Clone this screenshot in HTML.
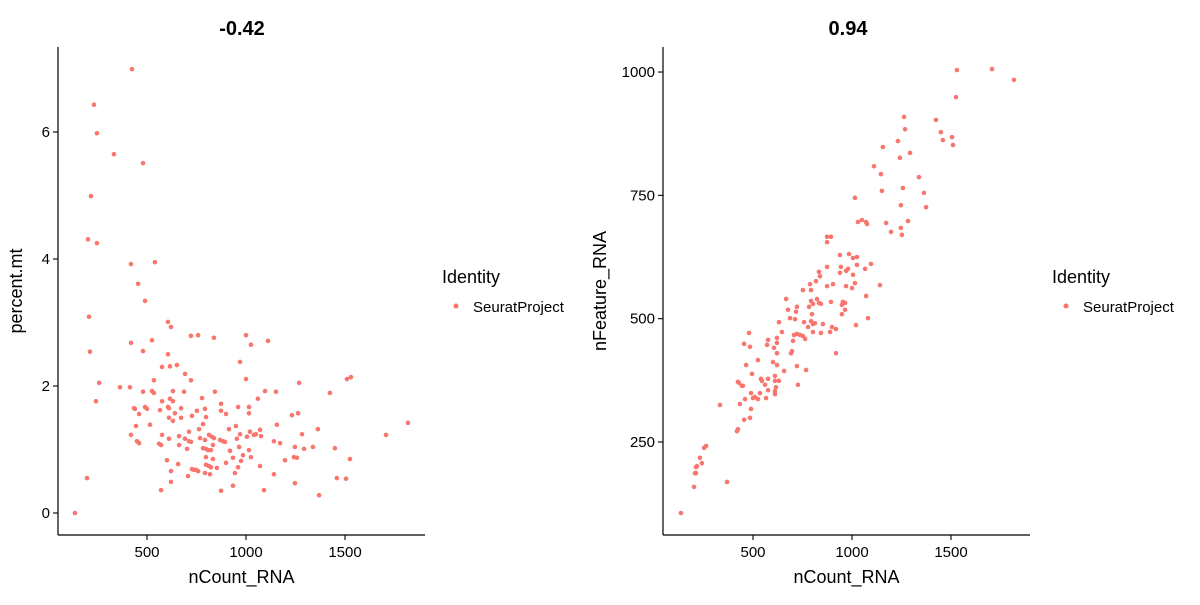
<!DOCTYPE html>
<html><head><meta charset="utf-8"><style>
body{margin:0;background:#fff;}
svg text{font-family:"Liberation Sans",Arial,sans-serif;}
</style></head><body>
<svg id="chart" width="1200" height="600" xmlns="http://www.w3.org/2000/svg"></svg>
<script>
// Left panel: nCount_RNA vs percent.mt
const leftX = [424,232,247,333,480,217,202,247,419,540,455,490,207,606,621,722,758,838,1000,1025,419,525,212,480,606,970,576,616,651,692,722,1000,535,258,364,414,480,525,535,631,687,843,242,576,616,631,778,874,434,439,490,500,606,611,566,672,793,874,960,1015,460,641,752,899,1015,611,672,727,798,631,444,515,783,763,949,914,712,970,1020,419,576,662,813,828,838,1005,1040,768,611,692,712,722,793,869,884,894,954,449,460,561,571,662,833,965,783,798,808,823,702,919,1015,985,798,833,934,975,1025,601,899,960,657,798,813,823,853,727,737,747,758,621,793,818,944,707,197,621,934,571,874,136,1111,1268,1510,1530,1096,1151,1424,1060,1232,1263,1818,1707,1156,1071,1050,1076,1283,1363,1141,1172,1247,1293,1338,1449,1071,1197,1242,1257,1525,1141,1247,1459,1505,1091,1369];
const leftY = [6.99,6.43,5.98,5.65,5.51,4.99,4.31,4.25,3.92,3.95,3.61,3.34,3.09,3.01,2.93,2.79,2.80,2.76,2.80,2.65,2.68,2.72,2.54,2.55,2.50,2.38,2.30,2.31,2.33,2.19,2.09,2.11,2.09,2.05,1.98,1.98,1.91,1.92,1.89,1.92,1.91,1.91,1.76,1.76,1.80,1.76,1.81,1.72,1.65,1.64,1.67,1.64,1.67,1.65,1.62,1.65,1.64,1.61,1.67,1.67,1.56,1.57,1.61,1.56,1.57,1.50,1.50,1.53,1.51,1.45,1.37,1.39,1.40,1.32,1.37,1.32,1.28,1.24,1.28,1.23,1.23,1.21,1.23,1.20,1.18,1.20,1.23,1.18,1.17,1.17,1.13,1.12,1.15,1.15,1.13,1.12,1.17,1.13,1.10,1.09,1.07,1.07,1.07,1.04,1.02,1.01,0.99,0.99,1.01,0.98,0.99,0.91,0.88,0.85,0.87,0.82,0.88,0.83,0.79,0.72,0.77,0.76,0.74,0.72,0.71,0.69,0.68,0.68,0.66,0.66,0.63,0.61,0.63,0.58,0.55,0.49,0.43,0.36,0.35,0,2.71,2.05,2.11,2.14,1.92,1.91,1.89,1.80,1.54,1.57,1.42,1.23,1.39,1.31,1.24,1.21,1.24,1.32,1.13,1.10,1.04,1.01,1.04,1.02,0.74,0.83,0.88,0.87,0.85,0.61,0.47,0.55,0.54,0.36,0.28];
// Right panel: nCount_RNA vs nFeature_RNA
const rightX = [480,455,485,465,525,495,424,429,444,449,540,545,576,611,611,631,561,576,616,611,611,490,535,510,500,525,460,566,727,722,768,657,601,621,333,434,490,455,485,424,419,263,253,232,242,217,212,207,212,369,202,136,874,894,874,944,874,939,970,980,1025,1066,1096,1005,833,838,818,788,874,904,970,1000,1015,1141,752,793,667,1071,793,823,833,803,843,783,894,954,949,965,965,949,722,677,717,798,687,712,758,631,793,813,803,853,778,899,919,1020,1081,646,803,843,889,707,722,737,752,763,702,576,571,621,621,606,697,692,621,919,1530,1707,1818,1525,1263,1424,1268,1449,1505,1459,1510,1232,1156,1293,1242,1111,1146,1338,1257,1151,1363,1015,1247,1374,1030,1050,1071,1076,1172,1283,1247,1197,1252,939,985,1005,1025];
const rightY = [471,449,443,406,416,388,372,370,364,364,378,374,378,384,374,374,366,355,361,353,347,349,349,341,339,337,337,339,366,404,396,394,412,406,325,327,317,295,299,276,272,242,238,218,207,201,199,187,187,169,159,106,666,666,655,605,605,593,597,601,609,601,611,589,595,586,576,570,566,570,566,562,572,568,558,558,540,546,536,540,532,530,530,524,534,534,528,532,518,509,524,518,514,509,501,499,493,493,495,491,489,489,483,483,479,487,501,473,473,471,473,467,469,467,465,459,455,457,447,451,461,441,434,430,430,430,1004,1006,984,949,909,903,884,878,868,862,852,860,848,836,826,809,793,787,765,759,755,745,730,726,696,700,696,692,694,698,684,676,670,629,631,623,625];
const xTicks = [500,1000,1500];
const leftYTicks = [0,2,4,6];
const rightYTicks = [250,500,750,1000];
const titles = ["-0.42","0.94"];

const NS="http://www.w3.org/2000/svg";
const svg=document.getElementById('chart');
function mk(tag,attrs,parent){const e=document.createElementNS(NS,tag);for(const k in attrs)e.setAttribute(k,attrs[k]);(parent||svg).appendChild(e);return e;}

const panels=[
 {xs:leftX,ys:leftY,yt:leftYTicks,ax:58,xr:425,x0:48,xk:0.198,y0:513,yk:63.5,yv0:0,ylab:"percent.mt",ylx:22,title:titles[0],tx:242,lx:442,name:"left"},
 {xs:rightX,ys:rightY,yt:rightYTicks,ax:663,xr:1030,x0:654,xk:0.198,y0:442,yk:0.4933,yv0:250,ylab:"nFeature_RNA",ylx:606,title:titles[1],tx:848,lx:1052,name:"right"}
];
panels.forEach(p=>{
  const sx=v=>p.x0+v*p.xk, sy=v=>p.y0-(v-p.yv0)*p.yk;
  const g=mk('g',{});
  
  
  const pts=mk('g',{},g);
  
  
  p.xs.forEach((v,i)=>{
    const c=mk('circle',{cx:sx(v),cy:sy(p.ys[i]),r:2.3,fill:'#F8766D'},pts);
    
    
  });
  const ya=mk('line',{x1:p.ax,y1:47,x2:p.ax,y2:535,stroke:'#000','stroke-width':1.2},g);
  
  
  const xa=mk('line',{x1:p.ax,y1:535,x2:p.xr,y2:535,stroke:'#000','stroke-width':1.2},g);
  
  
  xTicks.forEach(t=>{
    mk('line',{x1:sx(t),y1:535,x2:sx(t),y2:540,stroke:'#000','stroke-width':1.1},g);
    const tl=mk('text',{x:sx(t),y:557,'text-anchor':'middle','font-size':15,fill:'#000'},g);
    tl.textContent=t;
    
    
  });
  p.yt.forEach(t=>{
    mk('line',{x1:p.ax-5,y1:sy(t),x2:p.ax,y2:sy(t),stroke:'#000','stroke-width':1.1},g);
    const tl=mk('text',{x:p.ax-8,y:sy(t)+5,'text-anchor':'end','font-size':15,fill:'#000'},g);
    tl.textContent=t;
    
    
  });
  const xl=mk('text',{x:(p.ax+p.xr)/2,y:583,'text-anchor':'middle','font-size':18,fill:'#000'},g);
  xl.textContent='nCount_RNA';
  
  
  const yl=mk('text',{x:p.ylx,y:291,'text-anchor':'middle','font-size':18,fill:'#000',transform:`rotate(-90 ${p.ylx} 291)`},g);
  yl.textContent=p.ylab;
  
  
  const tt=mk('text',{x:p.tx,y:35,'text-anchor':'middle','font-size':20,'font-weight':'bold',fill:'#000'},g);
  tt.textContent=p.title;
  
  
  const lg=mk('g',{},g);
  
  
  const lt=mk('text',{x:p.lx,y:283,'font-size':18,fill:'#000'},lg);
  lt.textContent='Identity';
  
  
  const lk=mk('circle',{cx:p.lx+14,cy:306,r:2.5,fill:'#F8766D'},lg);
  
  
  const le=mk('text',{x:p.lx+31,y:312,'font-size':15,fill:'#000'},lg);
  le.textContent='SeuratProject';
  
  
});
</script>
</body></html>
